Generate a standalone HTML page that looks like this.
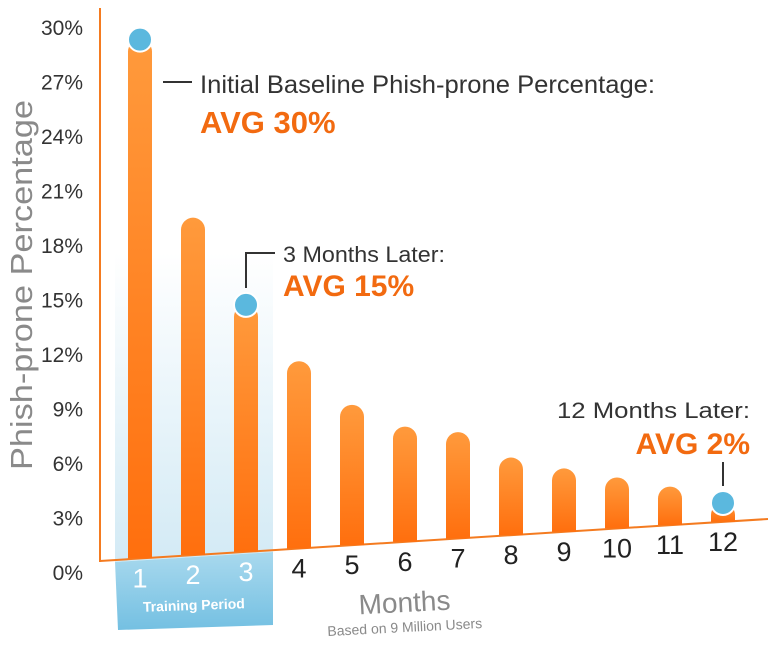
<!DOCTYPE html>
<html><head><meta charset="utf-8"><style>
html,body{margin:0;padding:0;background:#fff}
svg{display:block;font-family:"Liberation Sans",sans-serif}
</style></head><body>
<svg width="768" height="645" viewBox="0 0 768 645">
<defs>
<linearGradient id="bg" x1="0" y1="0" x2="0" y2="1"><stop offset="0" stop-color="#ff9a3c"/><stop offset="1" stop-color="#ff6f0e"/></linearGradient>
<linearGradient id="tg" x1="0" y1="0" x2="0" y2="1"><stop offset="0" stop-color="#ffffff"/><stop offset="0.45" stop-color="#ffffff"/><stop offset="1" stop-color="#d3eaf5"/></linearGradient>
<linearGradient id="tb" x1="0" y1="0" x2="0" y2="1"><stop offset="0" stop-color="#a9d9ee"/><stop offset="1" stop-color="#74c0e2"/></linearGradient>
</defs>
<polygon points="115,0 273,0 273,552 115,562" fill="url(#tg)"/>
<polygon points="115,562 273,552 273,625 118,630" fill="url(#tb)"/>
<line x1="100" y1="8" x2="100" y2="562" stroke="#f47b20" stroke-width="2"/>
<line x1="100" y1="561" x2="768" y2="519" stroke="#f47b20" stroke-width="2"/>
<g id="yticks"></g>
<g id="bars"></g>
<g id="xlabels"></g>
<text x="0" y="0" transform="translate(32,285) rotate(-90)" text-anchor="middle" font-size="31" fill="#8a8a8a" textLength="370" lengthAdjust="spacingAndGlyphs">Phish-prone Percentage</text>
<text x="194" y="610" text-anchor="middle" font-size="14" font-weight="bold" fill="#fff" transform="rotate(-2 194 610)">Training Period</text>
<text x="405" y="612" text-anchor="middle" font-size="28" fill="#8a8a8a" transform="rotate(-3 405 612)">Months</text>
<text x="405" y="632" text-anchor="middle" font-size="14" fill="#8a8a8a" transform="rotate(-3 405 632)">Based on 9 Million Users</text>
<line x1="163" y1="82" x2="192" y2="82" stroke="#333" stroke-width="2"/>
<text x="200" y="93" font-size="25" fill="#333" textLength="455" lengthAdjust="spacingAndGlyphs">Initial Baseline Phish-prone Percentage:</text>
<text x="200" y="133" font-size="31" font-weight="bold" fill="#f26a10">AVG 30%</text>
<polyline points="246,288 246,253 275,253" fill="none" stroke="#333" stroke-width="2"/>
<text x="283" y="262" font-size="22" fill="#333" textLength="162" lengthAdjust="spacingAndGlyphs">3 Months Later:</text>
<text x="283" y="296" font-size="30" font-weight="bold" fill="#f26a10">AVG 15%</text>
<text x="750" y="418" text-anchor="end" font-size="22" fill="#333" textLength="193" lengthAdjust="spacingAndGlyphs">12 Months Later:</text>
<text x="750" y="454" text-anchor="end" font-size="30" font-weight="bold" fill="#f26a10">AVG 2%</text>
<line x1="723" y1="462" x2="723" y2="486" stroke="#333" stroke-width="2"/>
</svg>
<script>
const months=["1","2","3","4","5","6","7","8","9","10","11","12"];
const values=[29.3,19.5,14.7,11.6,9.2,8.0,7.7,6.3,5.7,5.2,4.7,3.8];
const tickValues=[0,3,6,9,12,15,18,21,24,27,30];
const markedMonths=["1","3","12"];
const NS="http://www.w3.org/2000/svg";
function yScale(v){return 572-18.17*v;}
function xScale(i){return 140+i*53.0;}
function baseY(x){return 561-(x-100)*0.063;}
function mk(t,a,p){const e=document.createElementNS(NS,t);for(const k in a)e.setAttribute(k,a[k]);p.appendChild(e);return e;}
const yt=document.getElementById('yticks');
tickValues.forEach(v=>{const t=mk('text',{x:83,y:yScale(v)+8,'text-anchor':'end','font-size':'21',fill:'#333'},yt);


t.textContent=v+'%';});
const bg=document.getElementById('bars');
const xl=document.getElementById('xlabels');
values.forEach((v,i)=>{
const cx=xScale(i),w=24,top=yScale(v),bot=baseY(cx);
const p=mk('path',{d:`M${cx-w/2},${bot} L${cx-w/2},${top+w/2} A${w/2},${w/2} 0 0 1 ${cx+w/2},${top+w/2} L${cx+w/2},${bot} Z`,fill:'url(#bg)'},bg);


if(markedMonths.includes(months[i])){const c=mk('circle',{cx:cx,cy:top,r:12,fill:'#5bb8de',stroke:'#fff','stroke-width':2},bg);

}
const inT=i<3;
const t=mk('text',{x:cx,y:bot+29,'text-anchor':'middle','font-size':'27',fill:inT?'#fff':'#222'},xl);


t.textContent=months[i];
});
</script>
</body></html>
